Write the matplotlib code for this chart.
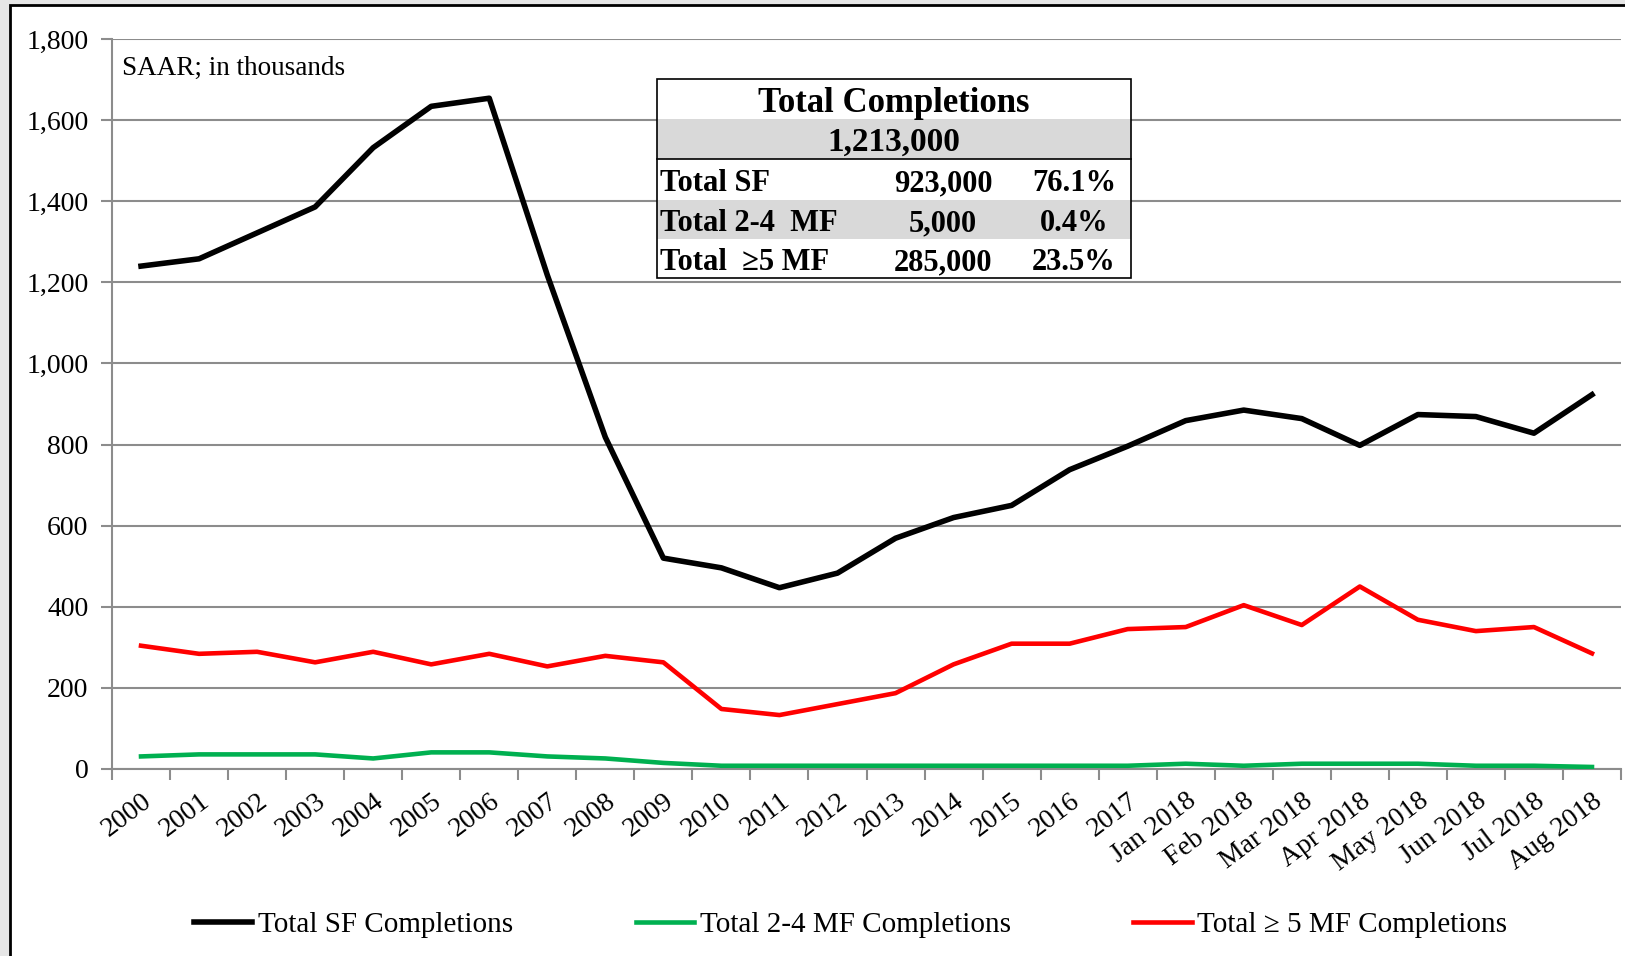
import numpy as np
import matplotlib
matplotlib.use('Agg')
import matplotlib.pyplot as plt
from matplotlib.patches import Rectangle

plt.rcParams['font.family'] = ['Liberation Serif', 'DejaVu Serif']
plt.rcParams['font.size'] = 20

categories = ['2000', '2001', '2002', '2003', '2004', '2005', '2006', '2007', '2008',
              '2009', '2010', '2011', '2012', '2013', '2014', '2015', '2016', '2017',
              'Jan 2018', 'Feb 2018', 'Mar 2018', 'Apr 2018', 'May 2018', 'Jun 2018',
              'Jul 2018', 'Aug 2018']

sf = [1240, 1258, 1322, 1386, 1532, 1634, 1654, 1218, 818, 520, 496, 447, 483, 569,
      620, 650, 738, 796, 859, 885, 864, 798, 874, 869, 828, 923]
mf24 = [31, 36, 36, 36, 26, 41, 41, 31, 26, 15, 8, 8, 8, 8, 8, 8, 8, 8,
        13, 8, 13, 13, 13, 8, 8, 5]
mf5 = [304, 284, 289, 263, 289, 258, 284, 253, 279, 263, 148, 133, 160, 187,
       258, 309, 309, 345, 350, 404, 355, 450, 368, 340, 350, 285]

series_names = ['Total SF Completions', 'Total 2-4 MF Completions', 'Total \u2265 5 MF Completions']
series_colors = ['black', '#00b050', '#ff0000']

table_title = 'Total Completions'
table_total = '1,213,000'
table_rows = ['Total SF', 'Total 2-4  MF', 'Total  \u22655 MF']
table_counts = ['923,000', '5,000', '285,000']
table_shares = ['76.1%', '0.4%', '23.5%']

W, H = 1625, 956
fig = plt.figure(figsize=(W / 100, H / 100), dpi=100)
fig.patch.set_facecolor('#e6e6e6')

# white page with black frame (top/left edges visible)
fig.add_artist(Rectangle((10 / W, -0.05), 1.1, (H - 5) / H + 0.05, transform=fig.transFigure,
                         facecolor='white', edgecolor='black', lw=2, zorder=-1))

ax = fig.add_axes([112 / W, 1 - 769 / H, (1621 - 112) / W, (769 - 39) / H])
ax.set_facecolor('none')

x = np.arange(len(categories))
ax.plot(x, sf, color=series_colors[0], lw=4, label=series_names[0], zorder=3)
ax.plot(x, mf24, color=series_colors[1], lw=3.3, label=series_names[1], zorder=3)
ax.plot(x, mf5, color=series_colors[2], lw=3.3, label=series_names[2], zorder=3)

ax.set_xlim(-0.5, len(categories) - 0.5)
ax.set_ylim(0, 1800)
ax.set_yticks(np.arange(0, 1801, 200))
ax.set_yticklabels([f'{v:,}' for v in range(0, 1801, 200)])
ax.grid(axis='y', color='#8c8c8c', lw=1.5, zorder=0)

ax.set_xticks(x)
ax.set_xticklabels(categories, rotation=37, ha='right', rotation_mode='anchor')
ax.set_xticks(np.arange(-0.5, len(categories)), minor=True)
ax.tick_params(axis='x', which='major', length=0, pad=14)
ax.tick_params(axis='x', which='minor', length=8, width=1.5, color='#8c8c8c')
ax.tick_params(axis='y', length=8, width=1.5, color='#8c8c8c', pad=9)

for s in ['top', 'right']:
    ax.spines[s].set_visible(False)
for s in ['left', 'bottom']:
    ax.spines[s].set_color('#8c8c8c')
    ax.spines[s].set_linewidth(1.5)

ax.text(122 / W, 1 - 75 / H, 'SAAR; in thousands', transform=fig.transFigure, fontsize=19.5)

# summary table
tl, tr = 657 / W, 1131 / W
edges = [79, 119, 159, 200, 239, 278]
fy = [1 - e / H for e in edges]
fig.add_artist(Rectangle((tl, fy[-1]), tr - tl, fy[0] - fy[-1], transform=fig.transFigure,
                         facecolor='white', edgecolor='none', zorder=4))
for i in (1, 3):
    fig.add_artist(Rectangle((tl, fy[i + 1]), tr - tl, fy[i] - fy[i + 1], transform=fig.transFigure,
                             facecolor='#d9d9d9', edgecolor='none', zorder=4))
fig.add_artist(Rectangle((tl, fy[-1]), tr - tl, fy[0] - fy[-1], transform=fig.transFigure,
                         facecolor='none', edgecolor='black', lw=1.2, zorder=6))
fig.add_artist(plt.Line2D([tl, tr], [fy[2], fy[2]], transform=fig.transFigure,
                          color='black', lw=1.2, zorder=6))

mid = lambda i: (fy[i] + fy[i + 1]) / 2 - 4 / H
fig.text((tl + tr) / 2, mid(0), table_title, ha='center', va='center',
         fontsize=25, fontweight='bold', zorder=7)
fig.text((tl + tr) / 2, mid(1) + 1 / H, table_total, ha='center', va='center',
         fontsize=24, fontweight='bold', zorder=7)
for i in range(3):
    fig.text(tl + 3 / W, mid(i + 2), table_rows[i], ha='left', va='center',
             fontsize=22, fontweight='bold', zorder=7)
    fig.text(943 / W, mid(i + 2), table_counts[i], ha='center', va='center',
             fontsize=22, fontweight='bold', zorder=7)
    fig.text(1074 / W, mid(i + 2), table_shares[i], ha='center', va='center',
             fontsize=22, fontweight='bold', zorder=7)

fig.legend(loc='center', bbox_to_anchor=(0.5234, 1 - 925 / H), ncol=3, frameon=False,
           fontsize=21, handlelength=2.0, handletextpad=0.2, columnspacing=4.2)

fig.savefig('out.png', dpi=100, facecolor=fig.get_facecolor())
